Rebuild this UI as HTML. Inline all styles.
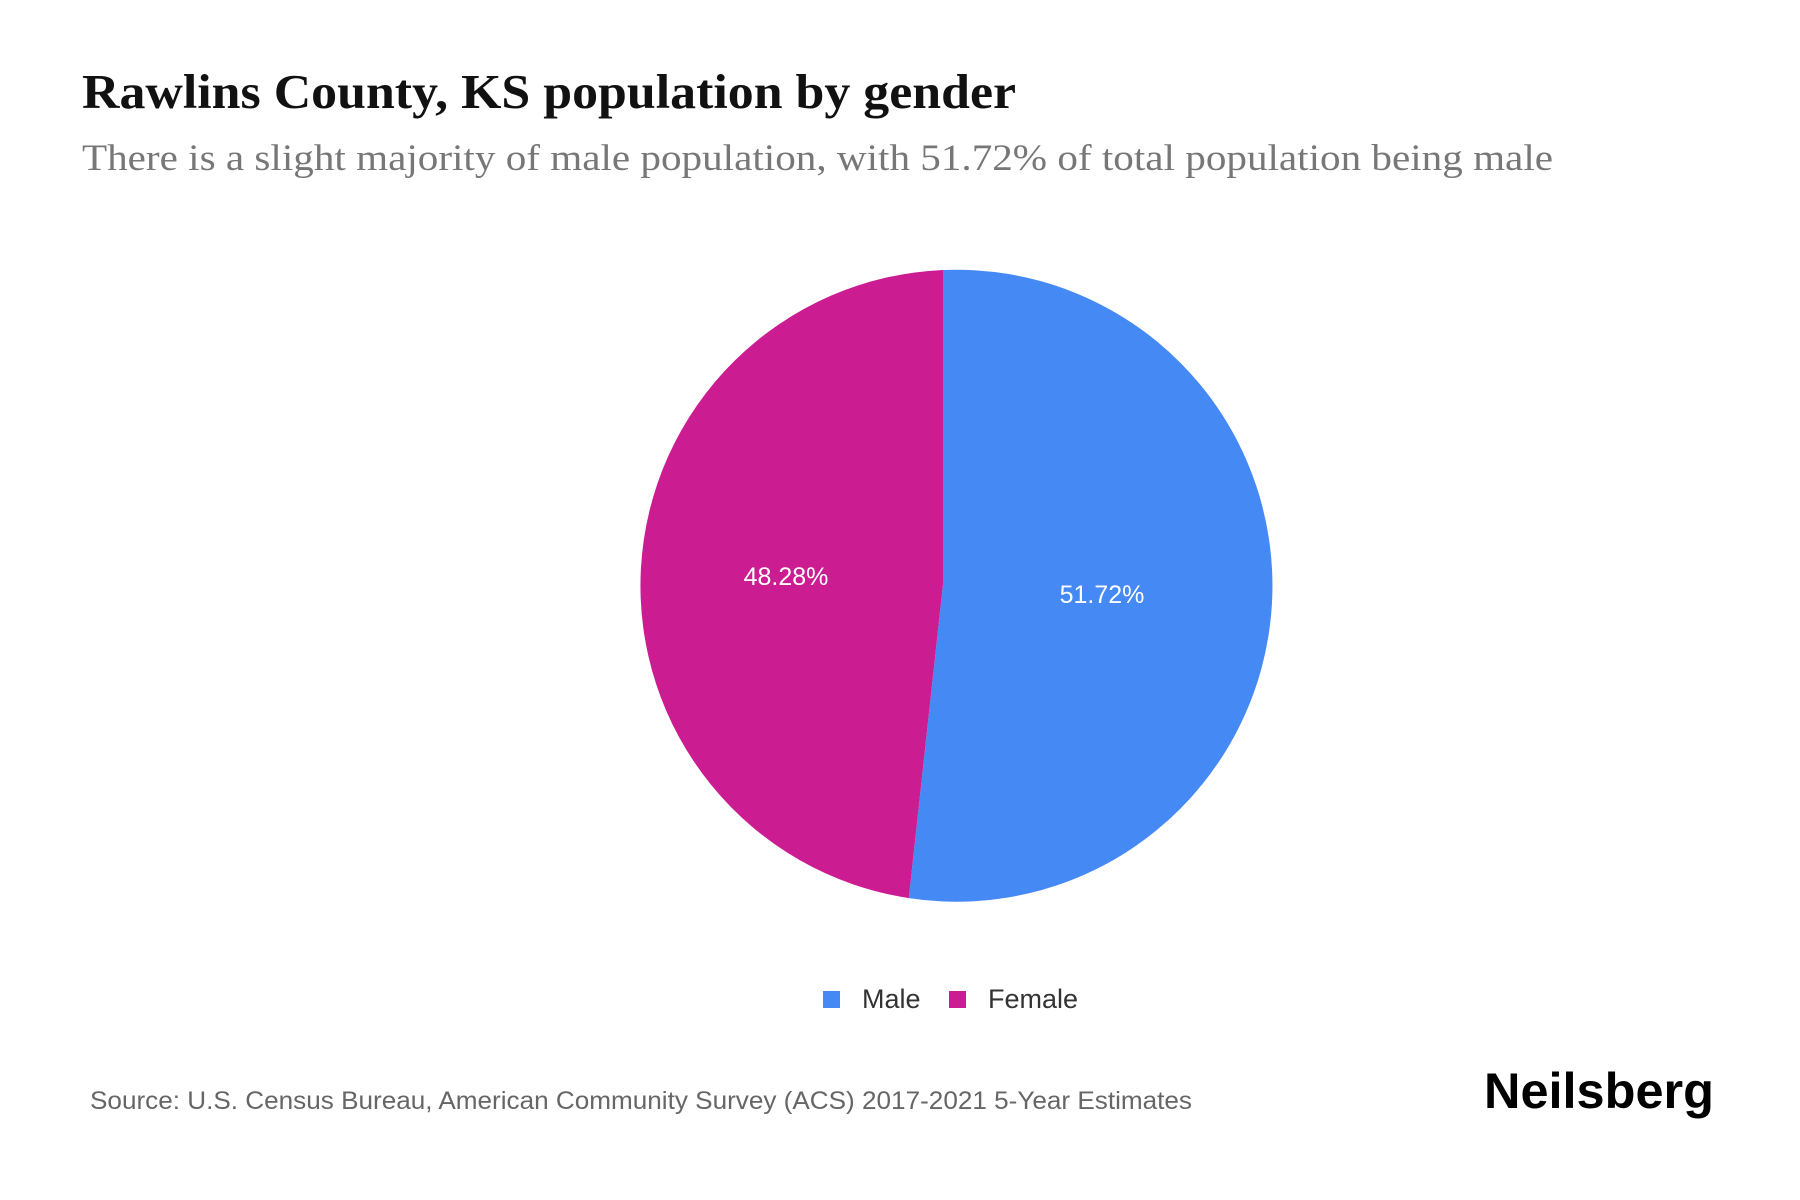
<!DOCTYPE html>
<html><head><meta charset="utf-8"><style>
html,body{margin:0;padding:0;background:#fff;}
svg{display:block}
</style></head><body>
<svg width="1800" height="1200" viewBox="0 0 1800 1200" xmlns="http://www.w3.org/2000/svg">
<rect width="1800" height="1200" fill="#fff"/>
<text x="82" y="108" font-family="Liberation Serif, serif" font-weight="bold" font-size="49" fill="#111" textLength="934" lengthAdjust="spacingAndGlyphs">Rawlins County, KS population by gender</text>
<text x="82" y="170" font-family="Liberation Serif, serif" font-size="37" fill="#777" textLength="1471" lengthAdjust="spacingAndGlyphs">There is a slight majority of male population, with 51.72% of total population being male</text>
<path d="M943,584 L943,270 A316,316 0 1,1 908.8,898.1 Z" fill="#4589f5"/>
<path d="M943,584 L908.8,898.1 A316,316 0 0,1 943,270 Z" fill="#cb1c91"/>
<text x="786" y="585" text-anchor="middle" font-family="Liberation Sans, sans-serif" font-size="25" fill="#fff">48.28%</text>
<text x="1102" y="603" text-anchor="middle" font-family="Liberation Sans, sans-serif" font-size="25" fill="#fff">51.72%</text>
<rect x="823" y="991" width="17" height="17" fill="#4589f5"/>
<text x="862" y="1008" font-family="Liberation Sans, sans-serif" font-size="27" fill="#333">Male</text>
<rect x="949" y="991" width="17" height="17" fill="#cb1c91"/>
<text x="988" y="1008" font-family="Liberation Sans, sans-serif" font-size="27" fill="#333">Female</text>
<text x="90" y="1109" font-family="Liberation Sans, sans-serif" font-size="25" fill="#666" textLength="1102" lengthAdjust="spacingAndGlyphs">Source: U.S. Census Bureau, American Community Survey (ACS) 2017-2021 5-Year Estimates</text>
<text x="1484" y="1108" font-family="Liberation Sans, sans-serif" font-weight="bold" font-size="50" fill="#000" textLength="230" lengthAdjust="spacingAndGlyphs">Neilsberg</text>
</svg>
</body></html>
